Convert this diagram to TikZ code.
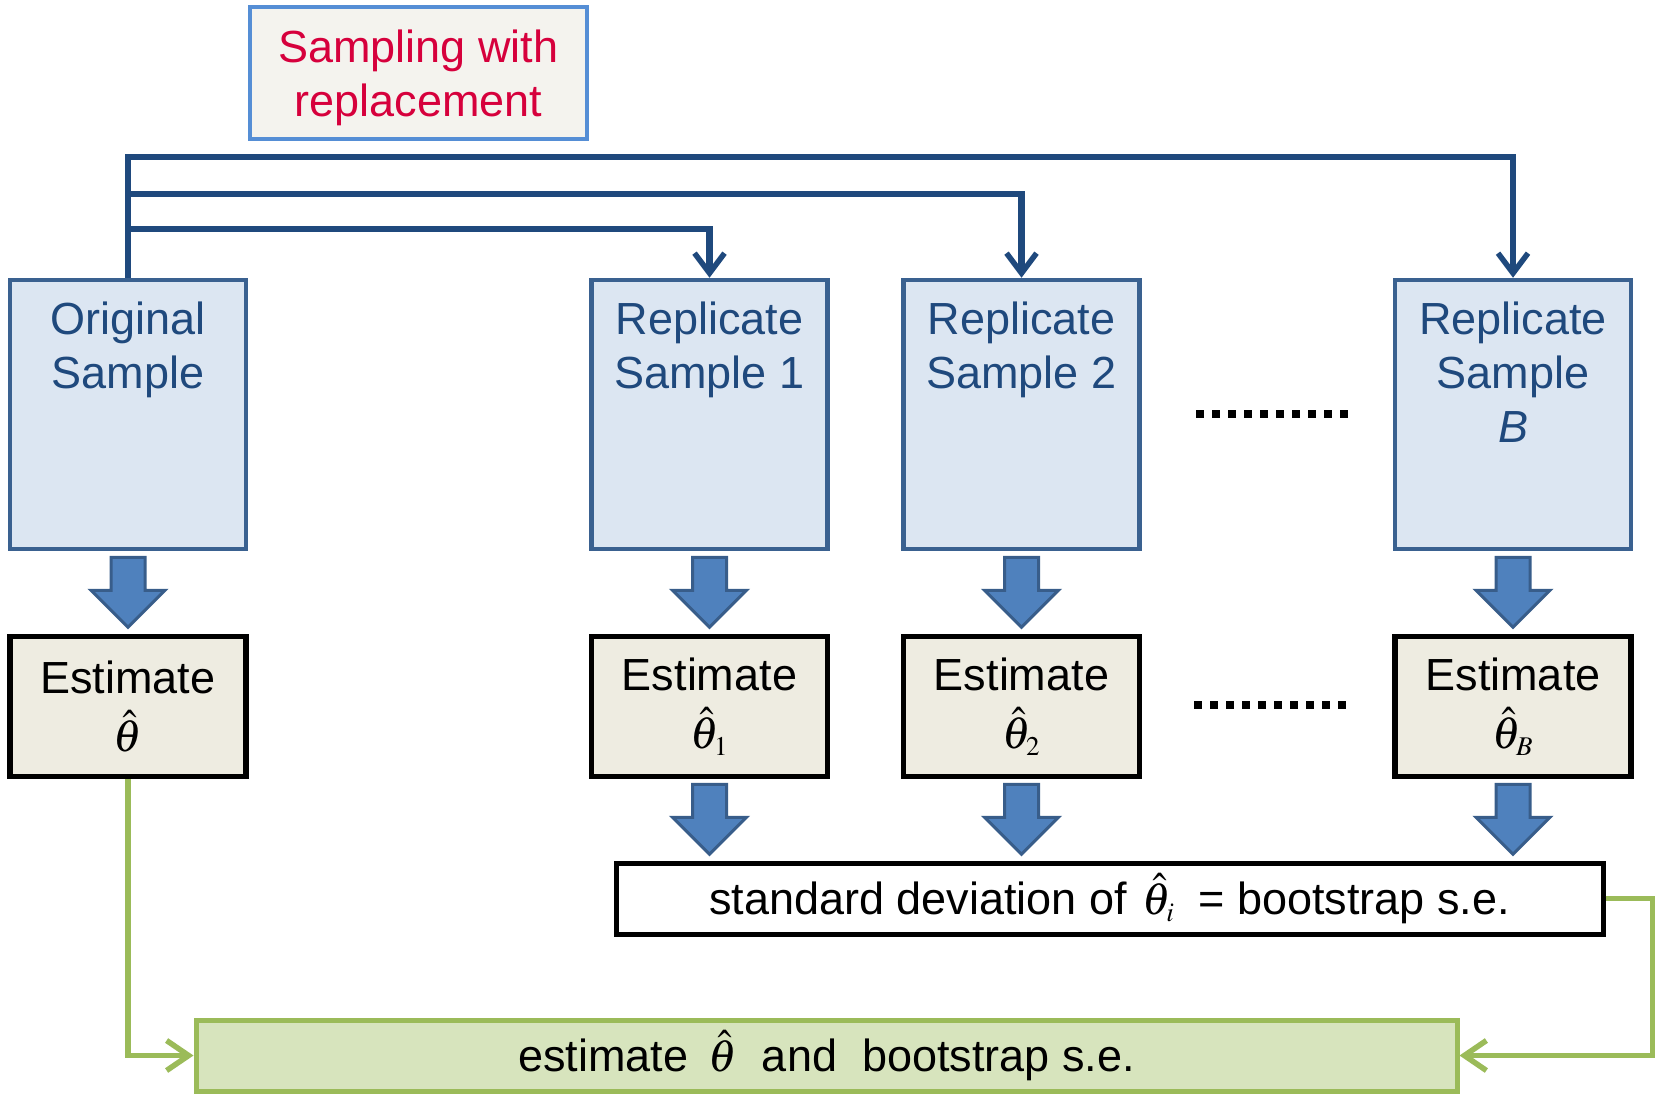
\documentclass[tikz,border=0pt]{standalone}
\usepackage{mathptmx}
\usepackage{fontspec}
\setmainfont{Liberation Sans}
\usetikzlibrary{arrows.meta}
\definecolor{navy}{HTML}{1F497D}
\definecolor{sfill}{HTML}{DCE6F2}
\definecolor{sdraw}{HTML}{3A6190}
\definecolor{bfill}{HTML}{4F81BD}
\definecolor{bdraw}{HTML}{385D8A}
\definecolor{efill}{HTML}{EEECE1}
\definecolor{rfill}{HTML}{F4F3EE}
\definecolor{rdraw}{HTML}{558ED5}
\definecolor{rtext}{HTML}{D6003C}
\definecolor{gfill}{HTML}{D7E4BD}
\definecolor{gdraw}{HTML}{9BBB59}
\tikzset{
  big/.style={font=\fontsize{45}{54}\selectfont},
  sbox/.style={draw=sdraw, fill=sfill, line width=4.5pt, minimum width=236pt, minimum height=269pt, inner sep=0pt},
  stext/.style={big, text=navy, align=center, inner sep=0pt, anchor=north},
  ebox/.style={draw=black, fill=efill, line width=5.5pt, minimum width=236pt, minimum height=140pt, inner sep=0pt, align=center, font=\fontsize{45}{58}\selectfont},
  blk/.style={draw=bdraw, fill=bfill, line width=3pt, line join=miter},
  conn/.style={draw=navy, line width=6.3pt, -{Straight Barb[length=20pt,width=30pt,line width=5.5pt]}},
  gline/.style={draw=gdraw, line width=5.5pt, -{Straight Barb[length=22pt,width=30pt,line width=5.5pt]}},
  dots/.style={line width=7.5pt, dash pattern=on 7.5pt off 8.5pt}
}
\newcommand\blkarrow[1]{%
  \draw[blk] (#1) ++(-17,0) -- ++(34,0) -- ++(0,33) -- ++(20,0) -- ++(-37,37) -- ++(-37,-37) -- ++(20,0) -- cycle;}
\begin{document}
\begin{tikzpicture}[x=1pt,y=-1pt]
\useasboundingbox (0,0) rectangle (1657,1096);
% sampling with replacement
\node[draw=rdraw, fill=rfill, line width=4.5pt, minimum width=337pt, minimum height=132pt] (samp) at (418.5,73) {};
\node[big, text=rtext, align=center, inner sep=0pt] (sampT) at ([yshift=-5pt]samp.center) {Sampling with\\replacement};
% sample boxes
\node[sbox] (orig) at (128,414.5) {};
\node[sbox] (rep1) at (709.5,414.5) {};
\node[sbox] (rep2) at (1021.5,414.5) {};
\node[sbox] (repB) at (1513,414.5) {};
\node[stext] (origT) at ([yshift=-24pt]orig.north) {Original\\Sample};
\node[stext] (rep1T) at ([yshift=-24pt]rep1.north) {Replicate\\Sample 1};
\node[stext] (rep2T) at ([yshift=-24pt]rep2.north) {Replicate\\Sample 2};
\node[stext] (repBT) at ([yshift=-24pt]repB.north) {Replicate\\Sample\\\textit{B}};
% connectors
\draw[conn] (orig.north) -- (orig.north |- 0,157) -| (repB.north);
\draw[conn] (orig.north |- 0,194) -| (rep2.north);
\draw[conn] (orig.north |- 0,229) -| (rep1.north);
% estimate boxes
\node[ebox] (est0) at (128,706.5) {Estimate\\$\hat{\theta}$};
\node[ebox] (est1) at (709.5,706.5) {Estimate\\$\hat{\theta}_{\scriptscriptstyle 1}$};
\node[ebox] (est2) at (1021.5,706.5) {Estimate\\$\hat{\theta}_{\scriptscriptstyle 2}$};
\node[ebox] (estB) at (1513,706.5) {Estimate\\$\hat{\theta}_{\scriptscriptstyle B}$};
% block arrows
\foreach \n in {orig,rep1,rep2,repB} {\blkarrow{[yshift=-6pt]\n.south}}
\foreach \n in {est1,est2,estB} {\blkarrow{[yshift=-5pt]\n.south}}
% dots
\draw[dots] (1196,414) -- (1349,414);
\draw[dots] (1194,705) -- (1347,705);
% sd box
\node[draw=black, fill=white, line width=5pt, minimum width=987pt, minimum height=71pt, big, inner sep=0pt] (sd) at (1109.5,898.5) {standard deviation of\hspace{16pt}$\hat{\theta}_{\scriptscriptstyle i}$\hspace{24pt}= bootstrap s.e.};
% final box
\node[draw=gdraw, fill=gfill, line width=5pt, minimum width=1261pt, minimum height=71pt, big, inner sep=0pt] (final) at (826.5,1055.5) {estimate\ \,$\hat{\theta}$\ \ and\ \ bootstrap s.e.};
% green connectors
\draw[gline] (est0.south) |- (final.west);
\draw[gline] (sd.east) -- ++(47,0) |- (final.east);
\end{tikzpicture}
\end{document}
